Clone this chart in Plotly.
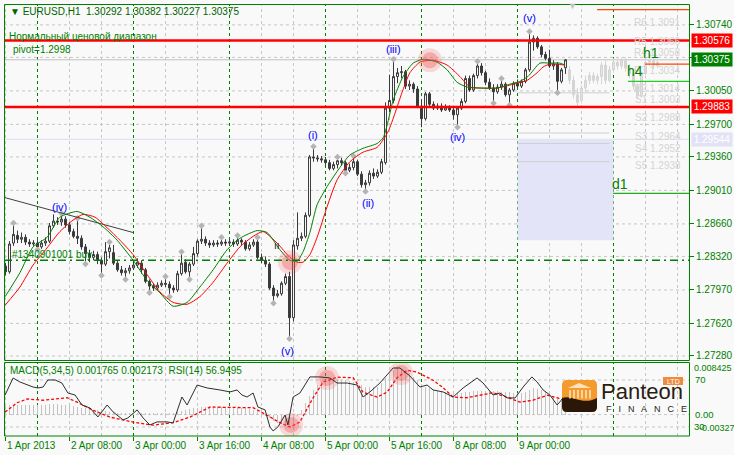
import plotly.graph_objects as go

W, H = 734, 455
def px(x): return x / W
def py(y): return 1 - y / H

# ---------------- data ----------------
opens = [1.2822,1.2816,1.2846,1.2854,1.2850,1.2852,1.2847,1.2845,1.2846,1.2842,
1.2846,1.2848,1.2864,1.2869,1.2868,1.2871,1.2865,1.2858,1.2853,1.2851,
1.2842,1.2835,1.2831,1.2834,1.2828,1.2824,1.2837,1.2836,1.2825,1.2818,
1.2815,1.2817,1.2820,1.2823,1.2825,1.2818,1.2806,1.2801,1.2799,1.2802,
1.2804,1.2803,1.2799,1.2797,1.2814,1.2826,1.2816,1.2824,1.2835,1.2848,
1.2850,1.2846,1.2844,1.2846,1.2845,1.2847,1.2846,1.2847,1.2845,1.2849,
1.2847,1.2840,1.2844,1.2847,1.2831,1.2828,1.2824,1.2799,1.2791,1.2793,
1.2804,1.2811,1.2768,1.2843,1.2851,1.2853,1.2875,1.2936,1.2935,1.2934,
1.2933,1.2930,1.2924,1.2928,1.2932,1.2930,1.2922,1.2925,1.2931,1.2918,
1.2907,1.2909,1.2919,1.2916,1.2920,1.2930,1.2987,1.2995,1.3020,1.3024,
1.3025,1.3010,1.3012,1.3007,1.2989,1.2976,1.3002,1.2991,1.2987,1.2989,
1.2985,1.2988,1.2985,1.2980,1.2987,1.2994,1.3018,1.3006,1.3021,1.3031,
1.3024,1.3014,1.3008,1.3004,1.3009,1.3012,1.3001,1.3006,1.3013,1.3010,
1.3015,1.3027,1.3056,1.3060,1.3051,1.3043,1.3039,1.3031,1.3033,1.3015,
1.30292]
highs = [1.2825,1.2848,1.2867,1.2859,1.2857,1.2855,1.2850,1.2849,1.2849,1.2849,
1.2852,1.2867,1.2876,1.2873,1.2877,1.2874,1.2868,1.2861,1.2872,1.2854,
1.2845,1.2839,1.2838,1.2837,1.2831,1.2847,1.2847,1.2844,1.2828,1.2822,
1.2820,1.2823,1.2826,1.2830,1.2828,1.2820,1.2808,1.2804,1.2805,1.2807,
1.2811,1.2806,1.2802,1.2817,1.2837,1.2829,1.2826,1.2842,1.2850,1.2864,
1.2853,1.2849,1.2849,1.2849,1.2852,1.2850,1.2850,1.2850,1.2854,1.2851,
1.2849,1.2847,1.2850,1.2852,1.2835,1.2832,1.2826,1.2802,1.2797,1.2806,
1.2814,1.2816,1.2849,1.2878,1.2857,1.2878,1.2938,1.2947,1.2938,1.2937,
1.2936,1.2933,1.2931,1.2936,1.2935,1.2932,1.2929,1.2937,1.2933,1.2921,
1.2912,1.2922,1.2924,1.2923,1.2934,1.2993,1.3022,1.3038,1.3029,1.3031,
1.3027,1.3016,1.3014,1.3010,1.2995,1.3004,1.3004,1.2994,1.2992,1.2992,
1.2991,1.2990,1.2988,1.2989,1.2997,1.3021,1.3021,1.3023,1.3036,1.3034,
1.3026,1.3018,1.3012,1.3012,1.3018,1.3014,1.3008,1.3015,1.3017,1.3017,
1.3029,1.3067,1.3063,1.3062,1.3053,1.3046,1.3048,1.3037,1.3035,1.3029,
1.30382]
lows = [1.2812,1.2814,1.2843,1.2846,1.2846,1.2844,1.2842,1.2843,1.2839,1.2840,
1.2843,1.2846,1.2862,1.2865,1.2864,1.2862,1.2855,1.2851,1.2845,1.2839,
1.2824,1.2826,1.2828,1.2824,1.2812,1.2822,1.2830,1.2823,1.2816,1.2812,
1.2808,1.2814,1.2818,1.2820,1.2814,1.2804,1.2794,1.2796,1.2797,1.2800,
1.2800,1.2790,1.2794,1.2795,1.2812,1.2814,1.2808,1.2822,1.2832,1.2845,
1.2843,1.2841,1.2842,1.2842,1.2843,1.2843,1.2843,1.2842,1.2843,1.2844,
1.2838,1.2838,1.2842,1.2829,1.2825,1.2821,1.2797,1.2783,1.2789,1.2791,
1.2802,1.2746,1.2764,1.2839,1.2848,1.2851,1.2873,1.2931,1.2931,1.2930,
1.2927,1.2922,1.2922,1.2924,1.2927,1.2919,1.2920,1.2922,1.2916,1.2904,
1.2900,1.2906,1.2913,1.2914,1.2918,1.2928,1.2983,1.2992,1.3013,1.3018,
1.3007,1.3006,1.3003,1.2987,1.2967,1.2974,1.2989,1.2985,1.2985,1.2983,
1.2984,1.2983,1.2975,1.2967,1.2985,1.2992,1.3004,1.3004,1.3018,1.3021,
1.3011,1.3006,1.2992,1.3002,1.3006,1.2999,1.2990,1.3004,1.3008,1.3008,
1.3013,1.3025,1.3047,1.3049,1.3040,1.3037,1.3029,1.3027,1.3003,1.3013,
1.30227]
closes = [1.2816,1.2845,1.2855,1.2850,1.2852,1.2847,1.2845,1.2846,1.2842,1.2846,
1.2848,1.2864,1.2869,1.2868,1.2871,1.2865,1.2858,1.2853,1.2851,1.2842,
1.2835,1.2831,1.2834,1.2828,1.2824,1.2837,1.2841,1.2825,1.2818,1.2815,
1.2817,1.2820,1.2823,1.2826,1.2818,1.2806,1.2801,1.2799,1.2802,1.2804,
1.2803,1.2799,1.2797,1.2814,1.2825,1.2816,1.2824,1.2835,1.2848,1.2850,
1.2846,1.2844,1.2846,1.2845,1.2847,1.2846,1.2847,1.2845,1.2849,1.2847,
1.2840,1.2844,1.2847,1.2831,1.2828,1.2824,1.2799,1.2791,1.2793,1.2804,
1.2811,1.2768,1.2844,1.2851,1.2853,1.2875,1.2936,1.2935,1.2934,1.2933,
1.2930,1.2924,1.2928,1.2932,1.2930,1.2922,1.2925,1.2931,1.2918,1.2907,
1.2909,1.2919,1.2916,1.2920,1.2931,1.2987,1.2995,1.3020,1.3024,1.3025,
1.3010,1.3012,1.3007,1.2989,1.2976,1.3002,1.2991,1.2987,1.2989,1.2985,
1.2988,1.2985,1.2980,1.2987,1.2994,1.3018,1.3006,1.3021,1.3031,1.3024,
1.3014,1.3008,1.3004,1.3009,1.3012,1.3001,1.3006,1.3013,1.3010,1.3015,
1.3027,1.3056,1.3060,1.3051,1.3043,1.3039,1.3031,1.3033,1.3015,1.3027,
1.30375]

# projected (ghost) candles
g_open = [1.3027,1.3016,1.3001,1.2995,1.3008,1.3016,1.3021,1.3016,1.3020,1.3032,1.3016,1.3027,
          1.3035,1.3031,1.3037,1.3029,1.3023,1.3010,1.3000,1.3023,1.3035,1.3037,1.3031]
g_close = [1.3016,1.3001,1.2993,1.3008,1.3016,1.3021,1.3016,1.3020,1.3032,1.3016,1.3027,1.3035,
           1.3031,1.3037,1.3029,1.3023,1.3010,1.3000,1.3023,1.3035,1.3037,1.3031,1.3035]
g_high = [1.3031,1.3021,1.3008,1.3011,1.3021,1.3025,1.3025,1.3023,1.3035,1.3037,1.3031,1.3039,
          1.3039,1.3040,1.3040,1.3033,1.3027,1.3013,1.3025,1.3039,1.3041,1.3040,1.3037]
g_low = [1.3012,1.2997,1.2989,1.2992,1.3004,1.3012,1.3013,1.3012,1.3012,1.3012,1.3014,1.3024,
         1.3027,1.3028,1.3025,1.3018,1.3006,1.2997,1.2998,1.3020,1.3031,1.3028,1.3029]

frac_up = [2,14,18,26,40,44,49,54,58,63,77,83,87,97,118,124,131]
frac_dn = [8,20,24,30,36,41,46,67,71,85,90,113,122,126,138]

green_x = [-0.1,3.6,6.9,10.4,13.6,17.9,21.1,24.4,27.9,31.9,35.4,38.6,41.9,45.4,48.6,51.9,55.4,58.6,62.9,65.4,
           68.6,71.1,72.9,74.4,76.1,77.9,80.4,83.6,86.1,89.4,92.9,94.4,95.4,96.9,99.4,101.9,104.4,107.9,110.4,112.9,
           115.4,118.6,122.9,126.1,128.6,130.6,133.6,136.1,138.6,139.9]
green_y = [1.2790,1.2815,1.2842,1.2852,1.2873,1.2879,1.2873,1.2863,1.2849,1.2828,1.2807,1.2794,1.2780,1.2784,1.2800,
           1.2818,1.2839,1.2851,1.2859,1.2857,1.2839,1.2828,1.2827,1.2837,1.2857,1.2886,1.2905,1.2925,1.2938,1.2945,
           1.2950,1.2956,1.2969,1.2995,1.3020,1.3034,1.3038,1.3035,1.3027,1.3014,1.3009,1.3008,1.3008,1.3012,1.3015,
           1.3020,1.3034,1.3034,1.3034,1.3032]
red_x = [-0.1,3.6,6.9,10.4,13.6,16.9,19.4,22.4,25.4,28.6,31.9,35.4,38.6,41.9,45.4,48.6,51.9,55.4,58.6,61.9,
         64.4,67.9,71.1,72.9,74.4,76.1,77.9,80.4,82.9,86.1,89.4,92.9,95.6,97.4,99.1,101.1,103.6,106.9,110.4,113.6,
         116.1,118.6,122.9,126.9,130.4,132.9,134.4,136.1,139.9]
red_y = [1.2781,1.2800,1.2823,1.2841,1.2858,1.2870,1.2876,1.2873,1.2862,1.2849,1.2834,1.2813,1.2795,1.2784,1.2782,
         1.2790,1.2805,1.2825,1.2842,1.2853,1.2858,1.2846,1.2831,1.2826,1.2826,1.2834,1.2852,1.2884,1.2912,1.2931,
         1.2941,1.2946,1.2962,1.2982,1.3003,1.3024,1.3035,1.3037,1.3032,1.3020,1.3009,1.3008,1.3008,1.3012,1.3016,
         1.3024,1.3030,1.3033,1.3032]

trend_x = [-0.6, 31.9]
trend_y = [1.2894, 1.2857]

macd_main = [0.0014,0.0015,0.0016,0.0016,0.0015,0.0015,0.0015,0.0015,
 0.0015,0.0015,0.0016,0.0017,0.0017,0.0017,0.0016,0.0015,0.0014,0.0013,
 0.0012,0.0011,0.0010,0.0009,0.0008,0.0007,0.0006,0.0005,
 0.0004,0.0004,0.0003,0.0003,0.0003,0.0002,0.0002,0.0002,0.0001,0.0001,0.0001,0.0001,0.0002,0.0002,0.0002,0.0002,0.0003,0.0004,
 0.0006,0.0008,0.0009,0.0010,0.0011,
 0.0012,0.0012,0.0013,0.0013,0.0012,0.0012,0.0012,0.0012,0.0011,0.0011,0.0010,0.0010,
 0.0009,0.0007,0.0005,
 0.0002,-0.0002,-0.0006,-0.0010,-0.0013,-0.0015,-0.0017,-0.0019,
 -0.0010,-0.0002,0.0008,0.0018,0.0030,
 0.0040,0.0048,0.0053,0.0056,0.0058,
 0.0058,0.0057,0.0056,0.0055,0.0054,0.0052,0.0050,0.0047,
 0.0045,0.0044,0.0044,0.0045,0.0050,
 0.0058,0.0066,0.0072,0.0074,0.0073,
 0.0070,0.0066,0.0060,0.0055,0.0049,
 0.0045,0.0042,0.0040,0.0038,0.0037,0.0036,0.0035,
 0.0034,0.0034,0.0035,0.0036,0.0036,0.0037,0.0038,0.0038,
 0.0038,0.0038,0.0037,0.0037,0.0036,0.0036,0.0036,0.0035,0.0035,0.0035,0.0036,
 0.0040,0.0042,0.0041,0.0040,0.0038,0.0034,0.0030,0.0026,0.0022,0.0018]

sig_x = [-0.1,2.9,5.4,9.4,15.4,17.9,21.9,26.1,31.9,36.9,41.9,46.1,51.1,56.9,61.9,65.4,68.6,71.1,73.6,76.9,
         79.4,82.9,86.9,89.4,92.9,95.4,97.9,100.4,102.9,106.9,109.4,111.9,115.4,118.6,121.9,125.4,128.6,131.9,135.4,137.9,140]
sig_v = [0.0004,0.0019,0.0025,0.0023,0.0027,0.0020,0.0007,-0.0004,-0.0012,-0.0017,-0.0013,-0.0004,0.0012,0.0012,0.0011,
         -0.0001,-0.0013,-0.0020,-0.0012,0.0027,0.0052,0.0060,0.0059,0.0036,0.0028,0.0036,0.0059,0.0071,0.0068,0.0055,
         0.0043,0.0028,0.0027,0.0031,0.0035,0.0028,0.0020,0.0023,0.0031,0.0027,0.0022]

rsi_x = [-0.1,1.9,3.6,5.4,6.9,8.1,9.4,10.6,12.4,14.1,15.6,17.4,19.1,21.1,23.1,25.4,26.9,29.4,30.6,32.9,
         34.4,36.1,37.9,40.4,41.9,44.1,45.4,47.9,50.4,53.6,56.1,57.9,59.1,60.4,61.9,63.1,64.9,66.1,66.9,68.1,
         69.9,70.6,71.9,73.6,74.9,76.1,78.6,81.1,82.9,85.4,87.9,89.4,91.1,93.6,96.9,98.6,101.1,103.6,105.4,106.9,
         109.4,111.9,114.4,116.6,117.9,119.4,121.9,123.6,125.4,127.4,129.4,131.6,132.9,134.4,136.1,137.9,139.4,140]
rsi_v = [57.2,71.7,68.3,65.7,64.0,63.2,64.0,70.0,70.0,67.4,58.9,57.2,48.7,46.2,38.5,48.7,42.8,36.0,37.7,44.5,
         37.7,31.7,34.3,34.3,33.4,55.5,48.7,65.7,63.2,61.5,59.8,61.5,57.2,55.5,58.9,47.0,44.5,30.0,26.6,30.0,
         40.2,31.7,55.5,58.9,65.7,72.6,72.6,71.7,67.4,67.4,65.7,55.5,59.8,67.4,80.2,80.2,73.4,64.0,65.7,61.5,
         59.8,55.5,63.2,68.3,71.7,67.4,57.2,58.9,54.7,54.7,64.0,72.6,68.3,61.5,57.2,48.7,54.7,56.9]

assert len(opens) == len(highs) == len(lows) == len(closes) == len(macd_main) == 141
assert len(green_x) == len(green_y) and len(red_x) == len(red_y)
assert len(sig_x) == len(sig_v) and len(rsi_x) == len(rsi_v)

price_ticks = [1.30740, 1.30400, 1.30050, 1.29700, 1.29360, 1.29010, 1.28660, 1.28320, 1.27970, 1.27620, 1.27280]
price_tick_text = ['1.30740', '', '1.30050', '1.29700', '1.29360', '1.29010', '1.28660', '1.28320', '1.27970', '1.27620', '1.27280']
box_levels = [1.30576, 1.30375, 1.29883, 1.29544]
box_colors = ['#ff0000', '#008000', '#ff0000', '#e2e2f6']

time_idx = [0, 16, 32, 48, 64, 80, 96, 112, 128]
time_labels = ['1 Apr 2013', '2 Apr 08:00', '3 Apr 00:00', '3 Apr 16:00', '4 Apr 08:00',
               '5 Apr 00:00', '5 Apr 16:00', '8 Apr 08:00', '9 Apr 00:00']
grid_idx = list(range(0, 171, 8))
day_idx = [8, 32, 56, 80, 104, 128, 152]

wave_text = ['(iv)', '(v)', '(i)', '(ii)', '(iii)', '(iv)', '(v)']
wave_x = [13.6, 70.6, 76.9, 90.6, 96.9, 112.9, 130.9]
wave_y = [1.2884, 1.2733, 1.2959, 1.2888, 1.3049, 1.2957, 1.3081]

pivot_text = ['R6 1.3091', 'R5 1.3066', 'R4 1.3058', 'R3 1.3034', 'R2 1.3014', 'S1 1.3003',
              'S2 1.2988', 'S3 1.2964', 'S4 1.2952', 'S5 1.2938']
pivot_y = [1.3076, 1.3057, 1.3045, 1.3026, 1.3007, 1.2996, 1.2977, 1.2957, 1.2945, 1.2927]
pivot_lines = [1.3003, 1.2961, 1.2950, 1.2931]

red_levels = [1.30576, 1.29883]
order_level = 1.2828
bid_level = 1.30375
zone_top, zone_bottom = 1.29544, 1.28490

tf_lines = [(147.9, 1.3090, '#ff4500'), (159.9, 1.3033, '#ff4500'), (155.6, 1.3015, '#22cc22'), (151.9, 1.2898, '#22aa22')]
tf_text = [('h1', 161.4, 1.3045), ('h4', 157.4, 1.3026), ('d1', 153.6, 1.2908)]

circle_main = [(71.1, 1.2826), (106.1, 1.3037)]
circle_macd = [(71.4, -0.00166), (80.4, 0.00586), (98.9, 0.00666)]

# ---------------- figure ----------------
GREEN = '#008000'
FONT = 'Liberation Sans'
XR = [-0.375, 170.875]
YR = [1.27238, 1.30958]

fig = go.Figure()

idx = list(range(len(opens)))
g_idx = list(range(len(opens), len(opens) + len(g_open)))

fig.add_trace(go.Candlestick(
    x=g_idx, open=g_open, high=g_high, low=g_low, close=g_close,
    increasing=dict(line=dict(color='#d4d4d4', width=1), fillcolor='#e2e2e2'),
    decreasing=dict(line=dict(color='#d4d4d4', width=1), fillcolor='#d4d4d4'),
    whiskerwidth=0, hoverinfo='skip', showlegend=False, xaxis='x', yaxis='y'))

fig.add_trace(go.Candlestick(
    x=idx, open=opens, high=highs, low=lows, close=closes,
    increasing=dict(line=dict(color='#3a3a3a', width=1), fillcolor='#ffffff'),
    decreasing=dict(line=dict(color='#3a3a3a', width=1), fillcolor='#3a3a3a'),
    whiskerwidth=0, hoverinfo='skip', showlegend=False, xaxis='x', yaxis='y'))

fig.add_trace(go.Scatter(x=frac_up, y=[highs[i] for i in frac_up], mode='markers',
                         marker=dict(symbol='diamond', size=5, color='#b4b4b4', line=dict(width=0)),
                         hoverinfo='skip', showlegend=False, xaxis='x', yaxis='y'))
fig.add_trace(go.Scatter(x=frac_dn, y=[lows[i] for i in frac_dn], mode='markers',
                         marker=dict(symbol='diamond', size=5, color='#b4b4b4', line=dict(width=0)),
                         hoverinfo='skip', showlegend=False, xaxis='x', yaxis='y'))

fig.add_trace(go.Scatter(x=trend_x, y=trend_y, mode='lines', line=dict(color='#404040', width=1),
                         hoverinfo='skip', showlegend=False, xaxis='x', yaxis='y'))
fig.add_trace(go.Scatter(x=red_x, y=red_y, mode='lines', line=dict(color='#ff0000', width=1, shape='spline', smoothing=0.6),
                         hoverinfo='skip', showlegend=False, xaxis='x', yaxis='y'))
fig.add_trace(go.Scatter(x=green_x, y=green_y, mode='lines', line=dict(color='#008000', width=1, shape='spline', smoothing=0.6),
                         hoverinfo='skip', showlegend=False, xaxis='x', yaxis='y'))

# highlight circles
for sz, op in [(24, 0.2), (16, 0.33)]:
    fig.add_trace(go.Scatter(x=[c[0] for c in circle_main], y=[c[1] for c in circle_main], mode='markers',
                             marker=dict(size=sz, color='rgba(240,80,80,%s)' % op, line=dict(width=0)),
                             hoverinfo='skip', showlegend=False, xaxis='x', yaxis='y'))

# MACD panel
fig.add_trace(go.Bar(x=idx, y=macd_main, width=0.25, marker=dict(color='#c2c2c2', line=dict(width=0)),
                     hoverinfo='skip', showlegend=False, xaxis='x2', yaxis='y2'))
fig.add_trace(go.Scatter(x=sig_x, y=sig_v, mode='lines', line=dict(color='#ff0000', width=1.3, dash='3px,2px'),
                         hoverinfo='skip', showlegend=False, xaxis='x2', yaxis='y2'))
for sz, op in [(24, 0.2), (16, 0.33)]:
    fig.add_trace(go.Scatter(x=[c[0] for c in circle_macd], y=[c[1] for c in circle_macd], mode='markers',
                             marker=dict(size=sz, color='rgba(240,80,80,%s)' % op, line=dict(width=0)),
                             hoverinfo='skip', showlegend=False, xaxis='x2', yaxis='y2'))
fig.add_trace(go.Scatter(x=rsi_x, y=rsi_v, mode='lines', line=dict(color='#2e2e2e', width=1),
                         hoverinfo='skip', showlegend=False, xaxis='x2', yaxis='y3'))

# ---------------- shapes ----------------
shapes = []
GRID = dict(color='#c6c6c6', width=1, dash='3px,3px')
for g in price_ticks:
    shapes.append(dict(type='line', xref='paper', yref='y', x0=px(4), x1=px(689), y0=g, y1=g, line=GRID, layer='below'))
for k in grid_idx:
    for (ya, yb) in [(360, 4), (436, 362)]:
        shapes.append(dict(type='line', xref='x', yref='paper', x0=k, x1=k, y0=py(ya), y1=py(yb), line=GRID, layer='below'))
for d in day_idx:
    for (ya, yb) in [(360, 4), (436, 362)]:
        shapes.append(dict(type='line', xref='x', yref='paper', x0=d, x1=d, y0=py(ya), y1=py(yb),
                           line=dict(color=GREEN, width=1, dash='3px,3px'), layer='below'))
# MACD panel levels
shapes.append(dict(type='line', xref='paper', yref='y2', x0=px(4), x1=px(689), y0=0, y1=0, line=GRID, layer='below'))
for lv in [70, 30]:
    shapes.append(dict(type='line', xref='paper', yref='y3', x0=px(4), x1=px(689), y0=lv, y1=lv, line=GRID, layer='below'))

# zone box
shapes.append(dict(type='rect', xref='x', yref='y', x0=day_idx[5], x1=day_idx[6], y0=zone_bottom, y1=zone_top,
                   fillcolor='#e4e4f8', line=dict(width=0), layer='below'))
shapes.append(dict(type='line', xref='paper', yref='y', x0=px(4), x1=px(689), y0=zone_top, y1=zone_top,
                   line=dict(color='#dcdcf2', width=1), layer='below'))
for pl in pivot_lines:
    shapes.append(dict(type='line', xref='x', yref='y', x0=day_idx[5], x1=day_idx[6] - 1, y0=pl, y1=pl,
                       line=dict(color='#cfcfcf', width=1), layer='below'))
# bid line
shapes.append(dict(type='line', xref='paper', yref='y', x0=px(4), x1=px(689), y0=bid_level, y1=bid_level,
                   line=dict(color='#c0c0c0', width=1), layer='below'))
# red range lines
for lv in red_levels:
    shapes.append(dict(type='line', xref='paper', yref='y', x0=px(4), x1=px(689), y0=lv, y1=lv,
                       line=dict(color='#ff0000', width=2.5), layer='above'))
# order line
shapes.append(dict(type='line', xref='paper', yref='y', x0=px(4), x1=px(689), y0=order_level, y1=order_level,
                   line=dict(color=GREEN, width=1.5, dash='8px,4px,2px,4px'), layer='above'))
# timeframe lines
for (x0, lv, col) in tf_lines:
    shapes.append(dict(type='line', xref='x', yref='y', x0=x0, x1=XR[1], y0=lv, y1=lv,
                       line=dict(color=col, width=1.3), layer='above'))
# panel frames
shapes.append(dict(type='rect', xref='paper', yref='paper', x0=px(4.5), x1=px(689.5), y0=py(360.5), y1=py(4.5),
                   line=dict(color=GREEN, width=1), layer='above'))
shapes.append(dict(type='rect', xref='paper', yref='paper', x0=px(4.5), x1=px(689.5), y0=py(436), y1=py(362.5),
                   line=dict(color=GREEN, width=1), layer='above'))

# logo shapes
def path(cmds):
    out = []
    for c in cmds:
        if isinstance(c, str):
            out.append(c)
        else:
            out.append('%.5f,%.5f' % (px(c[0]), py(c[1])))
    return ' '.join(out)

shapes.append(dict(type='path', xref='paper', yref='paper',
                   path=path(['M', (567, 380), 'L', (592, 380), 'Q', (597, 380), (597, 385), 'L', (597, 407), 'Q', (597, 412), (592, 412),
                              'L', (567, 412), 'Q', (562, 412), (562, 407), 'L', (562, 385), 'Q', (562, 380), (567, 380), 'Z']),
                   fillcolor='#f59a2c', line=dict(width=0), layer='above'))
shapes.append(dict(type='path', xref='paper', yref='paper',
                   path=path(['M', (562, 398), 'C', (572, 394), (582, 406), (597, 398), 'L', (597, 407), 'Q', (597, 412), (592, 412),
                              'L', (567, 412), 'Q', (562, 412), (562, 407), 'Z']),
                   fillcolor='#2a1707', line=dict(width=0), layer='above'))
shapes.append(dict(type='path', xref='paper', yref='paper',
                   path=path(['M', (568, 388), 'L', (579, 383), 'L', (591, 388), 'Z']),
                   fillcolor='#ffe2bd', line=dict(width=0), layer='above'))
for cx in [570, 574, 578, 582, 586, 590]:
    shapes.append(dict(type='line', xref='paper', yref='paper', x0=px(cx), x1=px(cx), y0=py(390), y1=py(398.5),
                       line=dict(color='#ffe2bd', width=1.6), layer='above'))
shapes.append(dict(type='rect', xref='paper', yref='paper', x0=px(663), x1=px(683), y0=py(385), y1=py(377),
                   fillcolor='#f08a3c', line=dict(width=0), layer='above'))

# ---------------- annotations ----------------
ann = []
def txt(text, x, y, xref='paper', yref='paper', size=10, color=GREEN, xanchor='left', yanchor='middle', **kw):
    d = dict(text=text, x=x, y=y, xref=xref, yref=yref, showarrow=False, xanchor=xanchor, yanchor=yanchor,
             font=dict(family=FONT, size=size, color=color))
    d.update(kw)
    ann.append(d)

txt('\u25bc EURUSD,H1\u00a0\u00a01.30292 1.30382 1.30227 1.30375', px(8), py(11), color='#006400')
txt('Нормальный ценовой диапазон', px(7), py(36.5))
txt('pivot=1.2998', px(11), py(49))
txt('#1340901001 buy', px(10), py(254))
txt('MACD(5,34,5) 0.001765 0.002173\u00a0\u00a0RSI(14) 56.9495', px(8), py(370.5))
txt('\u25bc', px(572), py(6), color='#c4c4c4', size=9, xanchor='center')

for t, x, y in zip(wave_text, wave_x, wave_y):
    txt(t, x, y, xref='x', yref='y', size=11, color='#0000ff', xanchor='center')
txt('ıı', 67.9, 1.2843, xref='x', yref='y', size=10, color='#202020', xanchor='center')

for t, y in zip(pivot_text, pivot_y):
    txt(t, px(683), y, yref='y', size=10, color='#d4d4d4', xanchor='right')
for t, x, y in tf_text:
    txt(t, x, y, xref='x', yref='y', size=14, color=GREEN, xanchor='center')

for lv, col in zip(box_levels, box_colors):
    txt('%.5f' % lv, px(691), lv, yref='y', size=10, color='#ffffff', bgcolor=col, borderpad=1, width=38, align='center')

for i, t in zip(time_idx, time_labels):
    txt(t, i - 0.1, py(445), xref='x2', size=10)

txt('0.008425', px(692), py(368), size=9)
txt('70', px(693), 70, yref='y3', size=9.5)
txt('0.00', px(693), 0.0, yref='y2', size=9.5)
txt('-0.00327', px(697), py(428), size=9)
txt('30', px(692), 30, yref='y3', size=9.5)

# logo text
txt('Panteon', px(599), py(391), size=22, color='#2b1d12')
txt('F\u2002 I\u2002 N\u2002 A\u2002 N\u2002 C\u2002 E', px(604), py(409), size=9, color='#2b1d12')
txt('LTD', px(673), py(381), size=7, color='#ffffff', xanchor='center')

fig.update_layout(
    width=W, height=H, autosize=False,
    margin=dict(l=0, r=0, t=0, b=0, pad=0),
    paper_bgcolor='#f9f9f9', plot_bgcolor='#f9f9f9',
    font=dict(family=FONT, size=10, color=GREEN),
    showlegend=False,
    xaxis=dict(domain=[px(4), px(689)], range=XR, anchor='y', showgrid=False, zeroline=False,
               showticklabels=False, ticks='', rangeslider=dict(visible=False), fixedrange=True),
    yaxis=dict(domain=[py(360), py(4)], range=YR, anchor='x', side='right', showgrid=False, zeroline=False,
               tickvals=price_ticks, ticktext=price_tick_text, ticks='outside', ticklen=4, tickcolor=GREEN,
               tickfont=dict(family=FONT, size=10, color=GREEN), fixedrange=True),
    xaxis2=dict(domain=[px(4), px(689)], range=XR, anchor='y2', showgrid=False, zeroline=False,
                showticklabels=False, tickvals=time_idx, ticks='outside', ticklen=4, tickcolor=GREEN,
                fixedrange=True),
    yaxis2=dict(domain=[py(436), py(362)], range=[-0.00343, 0.008425], anchor='x2', showgrid=False,
                zeroline=False, showticklabels=False, fixedrange=True),
    yaxis3=dict(overlaying='y2', range=[22.3, 85.3], visible=False, fixedrange=True),
    bargap=0,
    shapes=shapes,
    annotations=ann,
)

fig.write_html('out.html', config={'displayModeBar': False},
               post_script="document.body.style.margin='0';document.body.style.padding='0';document.body.style.overflow='hidden';")
